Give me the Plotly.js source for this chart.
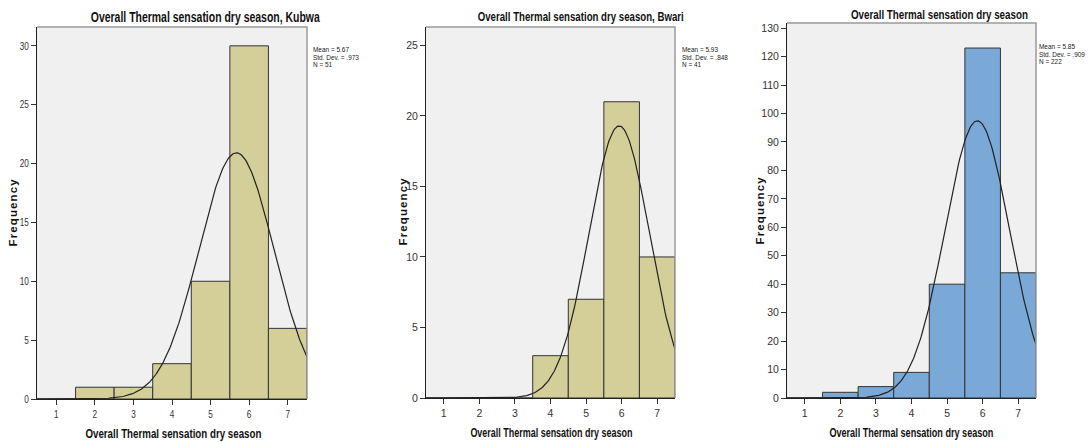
<!DOCTYPE html>
<html><head><meta charset="utf-8">
<script src="https://cdn.plot.ly/plotly-3.0.1.min.js"></script>
<style>html,body{margin:0;padding:0;background:#fff}#chart{width:1091px;height:442px}</style>
</head><body><div id="chart"></div>
<script>
const categories = [1, 2, 3, 4, 5, 6, 7];
const kubwaFreq = [0, 1, 1, 3, 10, 30, 6];
const bwariFreq = [0, 0, 0, 3, 7, 21, 10];
const overallFreq = [0, 2, 4, 9, 40, 123, 44];
const panelTitles = ["Overall Thermal sensation dry season, Kubwa", "Overall Thermal sensation dry season, Bwari", "Overall Thermal sensation dry season"];
const xAxisTitle = "Overall Thermal sensation dry season";
const yAxisTitle = "Frequency";
const means = [5.67, 5.93, 5.85];
const stdDevs = [0.973, 0.848, 0.909];
const counts = [51, 41, 222];
const meanLabels = ["Mean = 5.67", "Mean = 5.93", "Mean = 5.85"];
const sdLabels = ["Std. Dev. = .973", "Std. Dev. = .848", "Std. Dev. = .909"];
const nLabels = ["N = 51", "N = 41", "N = 222"];
const yTickVals = [[0,5,10,15,20,25,30],[0,5,10,15,20,25],[0,10,20,30,40,50,60,70,80,90,100,110,120,130]];
const yMax = [31.6, 26.3, 131.8];
const barColors = ["#D4CF98", "#D4CF98", "#7BA9D7"];

const W = 1091, H = 442;
const px = [[37,307],[426,675],[787,1036]];
const py = [[399,27],[398,27],[398,23]];
const arial = "'Liberation Sans', Arial, sans-serif";

// layout/style constants (pixel positions of text)
const titlePos = [[205,17,229,14],[580,17,206,13],[939,14,177,13]];
const xTitlePos = [[173,433,176,13],[551,433,162,12],[911,433,164,12]];
const yTitlePos = [[13,213],[403,212],[760,211]];
const statPos = [[312,45],[681,45],[1038,41.5]];
const statLineGap = 7.5;

const freqs = [kubwaFreq, bwariFreq, overallFreq];
const traces = [];
const layout = {
  width: W, height: H, margin: {l:0,r:0,t:0,b:0},
  paper_bgcolor: "#ffffff", plot_bgcolor: "#F0F0F0",
  showlegend: false, annotations: [], shapes: [],
  font: {family: arial, color: "#222"}
};
const fits = [];
function addAnn(a, fit) { layout.annotations.push(Object.assign({xref:"paper", yref:"paper", showarrow:false, borderpad:0}, a)); fits.push(fit); }

for (let i = 0; i < 3; i++) {
  const sfx = i === 0 ? "" : String(i + 1);
  const xa = "x" + sfx, ya = "y" + sfx;
  traces.push({
    type: "bar", x: categories, y: freqs[i], width: 1, xaxis: xa, yaxis: ya,
    marker: {color: barColors[i], line: {color: "#333333", width: 1}},
    hoverinfo: "x+y"
  });
  const cx = [], cy = [];
  for (let k = 0; k <= 280; k++) {
    const x = 0.5 + k * 0.025;
    const z = (x - means[i]) / stdDevs[i];
    cx.push(x);
    cy.push(counts[i] / (stdDevs[i] * Math.sqrt(2 * Math.PI)) * Math.exp(-0.5 * z * z));
  }
  traces.push({type: "scatter", mode: "lines", x: cx, y: cy, xaxis: xa, yaxis: ya,
    line: {color: "#222222", width: 1.2}, hoverinfo: "skip"});
  layout["xaxis" + sfx] = {
    domain: [px[i][0] / W, px[i][1] / W], range: [0.5, 7.5], anchor: ya,
    tickvals: categories, ticks: "outside", ticklen: 5, tickcolor: "#333",
    showgrid: false, zeroline: false, showline: true, linecolor: "#222", linewidth: 1,
    tickfont: {family: arial, size: 10.5, color: "#333"}, fixedrange: true
  };
  layout["yaxis" + sfx] = {
    domain: [(H - py[i][0]) / H, (H - py[i][1]) / H], range: [0, yMax[i]], anchor: xa,
    tickvals: yTickVals[i], ticks: "outside", ticklen: 5, tickcolor: "#333",
    showgrid: false, zeroline: false, showline: true, linecolor: "#222", linewidth: 1,
    tickfont: {family: arial, size: 10.5, color: "#333"}, fixedrange: true
  };
  layout.shapes.push({type: "path", xref: xa + " domain", yref: ya + " domain",
    path: "M 0 1 L 1 1 L 1 0", line: {color: "#9a9a9a", width: 1.5}});
  addAnn({text: "<b>" + panelTitles[i] + "</b>", x: titlePos[i][0] / W, y: (H - titlePos[i][1]) / H,
    xanchor: "center", yanchor: "middle", font: {family: arial, size: titlePos[i][3], color: "#111"}},
    {width: titlePos[i][2]});
  addAnn({text: "<b>" + xAxisTitle + "</b>", x: xTitlePos[i][0] / W, y: (H - xTitlePos[i][1]) / H,
    xanchor: "center", yanchor: "middle", font: {family: arial, size: xTitlePos[i][3], color: "#111"}},
    {width: xTitlePos[i][2]});
  addAnn({text: "<b>" + yAxisTitle + "</b>", x: yTitlePos[i][0] / W, y: (H - yTitlePos[i][1]) / H,
    xanchor: "center", yanchor: "middle", textangle: -90, font: {family: arial, size: 11.5, color: "#111"}},
    {width: 67, adjust: "spacing"});
  addAnn({text: [meanLabels[i], sdLabels[i], nLabels[i]].join("<br>"), x: statPos[i][0] / W, y: (H - statPos[i][1]) / H,
    xanchor: "left", yanchor: "top", align: "left", font: {family: arial, size: 7, color: "#222"}},
    {factor: 0.92, lineGap: statLineGap});
}
Plotly.newPlot("chart", traces, layout, {displayModeBar: false, staticPlot: true}).then(gd => {
  gd.querySelectorAll(".annotation").forEach(a => {
    const idx = +a.getAttribute("data-index");
    const fit = fits[idx];
    const t = a.querySelector("text.annotation-text");
    if (!t || !fit) return;
    const lines = t.querySelectorAll("tspan.line");
    if (lines.length > 1) {
      lines.forEach((ln, j) => {
        ln.setAttribute("dy", (j * fit.lineGap) + "px");
        ln.setAttribute("textLength", ln.getComputedTextLength() * fit.factor);
        ln.setAttribute("lengthAdjust", "spacingAndGlyphs");
      });
      return;
    }
    const w = fit.width || t.getComputedTextLength() * fit.factor;
    t.setAttribute("textLength", w);
    t.setAttribute("lengthAdjust", fit.adjust || "spacingAndGlyphs");
  });
  gd.querySelectorAll(".xtick text, .ytick text").forEach(t => {
    t.setAttribute("textLength", t.getComputedTextLength() * 0.78);
    t.setAttribute("lengthAdjust", "spacingAndGlyphs");
  });
});
</script></body></html>
